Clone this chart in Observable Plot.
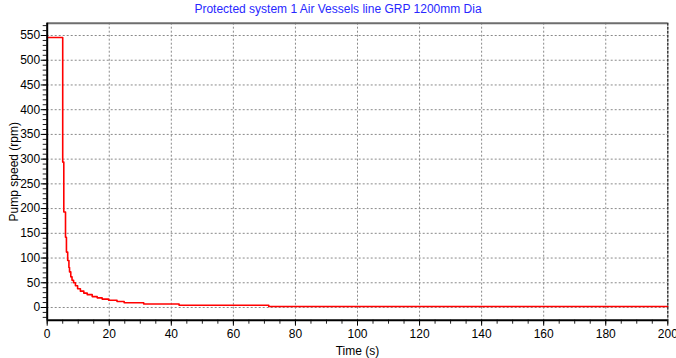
<!DOCTYPE html>
<html>
<head>
<meta charset="utf-8">
<script src="https://cdn.jsdelivr.net/npm/d3@7"></script>
<script src="https://cdn.jsdelivr.net/npm/@observablehq/plot@0.6"></script>
<style>
  html, body { margin: 0; padding: 0; background: #fff; }
  #chart { width: 676px; font-family: "Liberation Sans", Arial, sans-serif; }
  #title { height: 20px; line-height: 18px; font-size: 12px; color: #2828ff; text-align: center; }
</style>
</head>
<body>
<div id="chart">
  <div id="title">Protected system 1 Air Vessels line GRP 1200mm Dia</div>
</div>
<script>
// Pump run-down after trip: time (s) and speed (rpm), stepped trace
const timeS = [0, 5.0, 5.35, 5.9, 6.2, 6.6, 7.0, 7.2, 7.6, 8.0, 8.5, 9.1, 9.8, 10.7, 11.8, 12.9, 14.5, 16.1, 17.7, 19.8, 22.5, 24.8, 31.1, 42.5, 71.4, 200];
const speedRpm = [546, 294, 193, 142, 112, 95, 81, 72, 62, 55, 50, 44, 38, 33, 29, 26, 22, 19.5, 17, 14.5, 12, 9.5, 7, 4.5, 2, 2];

const xMajor = d3.range(0, 201, 20);
const xMinor = d3.range(0, 201, 5);
const yMajor = d3.range(0, 551, 50);
const yMinor = d3.range(-20, 571, 10);

const xDomain = [0, 200];
const yDomain = [-25.7, 574.9];

const rows = timeS.map((t, i) => ({t, rpm: speedRpm[i]}));

const plot = Plot.plot({
  width: 676,
  height: 338,
  marginTop: 2.7,
  marginBottom: 38.3,
  marginLeft: 46.7,
  marginRight: 8.7,
  style: {fontFamily: "'Liberation Sans', Arial, sans-serif", fontSize: "12px", color: "#000", background: "#fff"},
  x: {domain: xDomain, label: null},
  y: {domain: yDomain, label: null},
  marks: [
    Plot.gridX(xMajor, {stroke: "#8a8a8a", strokeOpacity: 1, strokeDasharray: "2,2"}),
    Plot.gridY(yMajor, {stroke: "#8a8a8a", strokeOpacity: 1, strokeDasharray: "2,2"}),
    Plot.axisX(xMinor, {tickSize: 4, text: null, label: null, stroke: "#222"}),
    Plot.axisY(yMinor, {tickSize: 4, text: null, label: null, stroke: "#222"}),
    Plot.axisX(xMajor, {tickSize: 6, tickPadding: 3, stroke: "#000", fill: "#000",
      label: "Time (s)", labelAnchor: "center", labelArrow: "none", labelOffset: 35}),
    Plot.axisY(yMajor, {tickSize: 6, tickPadding: 1, stroke: "#000", fill: "#000",
      label: "Pump speed (rpm)", labelAnchor: "center", labelArrow: "none", labelOffset: 38}),
    Plot.line(rows, {x: "t", y: "rpm", curve: "step-after", stroke: "#ff0000", strokeWidth: 1.6}),
    Plot.ruleY([yDomain[1]], {stroke: "#6e6e6e", strokeWidth: 2}),
    Plot.ruleX([xDomain[1]], {stroke: "#222", strokeWidth: 1.2, strokeDasharray: "3,1"}),
    Plot.ruleX([xDomain[0]], {stroke: "#000", strokeWidth: 2}),
    Plot.ruleY([yDomain[0]], {stroke: "#000", strokeWidth: 2})
  ]
});
document.getElementById("chart").appendChild(plot);
</script>
</body>
</html>
